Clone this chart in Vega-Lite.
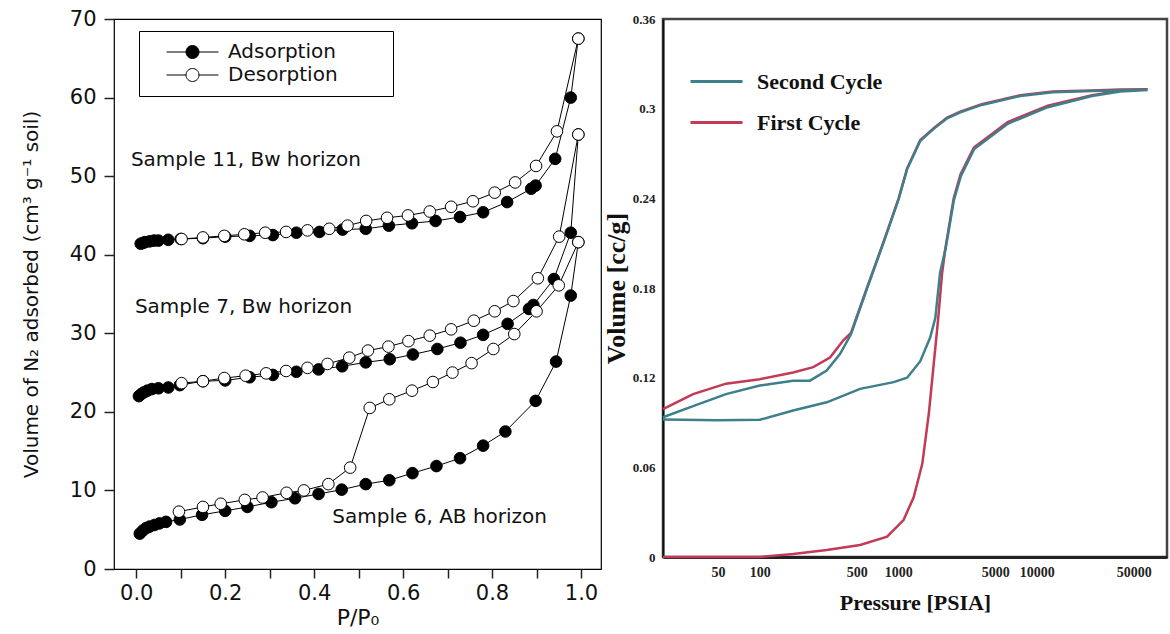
{
  "$schema": "https://vega.github.io/schema/vega-lite/v6.json",
  "padding": {"left": 20, "top": 7, "right": 2, "bottom": 0},
  "spacing": 0,
  "background": "white",
  "datasets": {
    "iso": [
      {"s":"11","t":"Adsorption","x":0.010,"y":41.4},{"s":"11","t":"Adsorption","x":0.015,"y":41.5},{"s":"11","t":"Adsorption","x":0.020,"y":41.6},{"s":"11","t":"Adsorption","x":0.030,"y":41.7},{"s":"11","t":"Adsorption","x":0.040,"y":41.8},{"s":"11","t":"Adsorption","x":0.050,"y":41.8},{"s":"11","t":"Adsorption","x":0.072,"y":41.9},{"s":"11","t":"Adsorption","x":0.100,"y":42.0},{"s":"11","t":"Adsorption","x":0.150,"y":42.1},{"s":"11","t":"Adsorption","x":0.200,"y":42.3},{"s":"11","t":"Adsorption","x":0.255,"y":42.4},{"s":"11","t":"Adsorption","x":0.307,"y":42.5},{"s":"11","t":"Adsorption","x":0.360,"y":42.8},{"s":"11","t":"Adsorption","x":0.412,"y":42.9},{"s":"11","t":"Adsorption","x":0.464,"y":43.2},{"s":"11","t":"Adsorption","x":0.516,"y":43.3},{"s":"11","t":"Adsorption","x":0.568,"y":43.7},{"s":"11","t":"Adsorption","x":0.620,"y":44.0},{"s":"11","t":"Adsorption","x":0.673,"y":44.3},{"s":"11","t":"Adsorption","x":0.728,"y":44.8},{"s":"11","t":"Adsorption","x":0.780,"y":45.4},{"s":"11","t":"Adsorption","x":0.834,"y":46.7},{"s":"11","t":"Adsorption","x":0.888,"y":48.4},{"s":"11","t":"Adsorption","x":0.898,"y":48.8},{"s":"11","t":"Adsorption","x":0.942,"y":52.2},{"s":"11","t":"Adsorption","x":0.977,"y":60.0},{"s":"11","t":"Adsorption","x":0.994,"y":67.5},
      {"s":"11","t":"Desorption","x":0.994,"y":67.5},{"s":"11","t":"Desorption","x":0.946,"y":55.7},{"s":"11","t":"Desorption","x":0.899,"y":51.3},{"s":"11","t":"Desorption","x":0.852,"y":49.2},{"s":"11","t":"Desorption","x":0.806,"y":47.9},{"s":"11","t":"Desorption","x":0.757,"y":46.8},{"s":"11","t":"Desorption","x":0.708,"y":46.1},{"s":"11","t":"Desorption","x":0.660,"y":45.5},{"s":"11","t":"Desorption","x":0.611,"y":45.0},{"s":"11","t":"Desorption","x":0.564,"y":44.7},{"s":"11","t":"Desorption","x":0.517,"y":44.3},{"s":"11","t":"Desorption","x":0.475,"y":43.7},{"s":"11","t":"Desorption","x":0.434,"y":43.3},{"s":"11","t":"Desorption","x":0.385,"y":43.1},{"s":"11","t":"Desorption","x":0.337,"y":42.9},{"s":"11","t":"Desorption","x":0.290,"y":42.8},{"s":"11","t":"Desorption","x":0.243,"y":42.6},{"s":"11","t":"Desorption","x":0.198,"y":42.4},{"s":"11","t":"Desorption","x":0.150,"y":42.2},{"s":"11","t":"Desorption","x":0.102,"y":42.0},
      {"s":"7","t":"Adsorption","x":0.006,"y":22.0},{"s":"7","t":"Adsorption","x":0.012,"y":22.3},{"s":"7","t":"Adsorption","x":0.018,"y":22.5},{"s":"7","t":"Adsorption","x":0.025,"y":22.7},{"s":"7","t":"Adsorption","x":0.035,"y":22.9},{"s":"7","t":"Adsorption","x":0.050,"y":23.0},{"s":"7","t":"Adsorption","x":0.072,"y":23.1},{"s":"7","t":"Adsorption","x":0.098,"y":23.4},{"s":"7","t":"Adsorption","x":0.150,"y":23.9},{"s":"7","t":"Adsorption","x":0.200,"y":24.0},{"s":"7","t":"Adsorption","x":0.255,"y":24.4},{"s":"7","t":"Adsorption","x":0.307,"y":24.7},{"s":"7","t":"Adsorption","x":0.360,"y":25.1},{"s":"7","t":"Adsorption","x":0.410,"y":25.4},{"s":"7","t":"Adsorption","x":0.463,"y":25.8},{"s":"7","t":"Adsorption","x":0.516,"y":26.3},{"s":"7","t":"Adsorption","x":0.570,"y":26.7},{"s":"7","t":"Adsorption","x":0.622,"y":27.3},{"s":"7","t":"Adsorption","x":0.677,"y":28.0},{"s":"7","t":"Adsorption","x":0.729,"y":28.8},{"s":"7","t":"Adsorption","x":0.780,"y":29.8},{"s":"7","t":"Adsorption","x":0.835,"y":31.2},{"s":"7","t":"Adsorption","x":0.883,"y":33.1},{"s":"7","t":"Adsorption","x":0.893,"y":33.6},{"s":"7","t":"Adsorption","x":0.939,"y":36.9},{"s":"7","t":"Adsorption","x":0.977,"y":42.8},{"s":"7","t":"Adsorption","x":0.994,"y":55.3},
      {"s":"7","t":"Desorption","x":0.994,"y":55.3},{"s":"7","t":"Desorption","x":0.951,"y":42.3},{"s":"7","t":"Desorption","x":0.903,"y":37.0},{"s":"7","t":"Desorption","x":0.848,"y":34.1},{"s":"7","t":"Desorption","x":0.806,"y":32.8},{"s":"7","t":"Desorption","x":0.759,"y":31.6},{"s":"7","t":"Desorption","x":0.708,"y":30.5},{"s":"7","t":"Desorption","x":0.660,"y":29.7},{"s":"7","t":"Desorption","x":0.612,"y":29.0},{"s":"7","t":"Desorption","x":0.567,"y":28.3},{"s":"7","t":"Desorption","x":0.521,"y":27.8},{"s":"7","t":"Desorption","x":0.479,"y":26.9},{"s":"7","t":"Desorption","x":0.430,"y":26.1},{"s":"7","t":"Desorption","x":0.385,"y":25.6},{"s":"7","t":"Desorption","x":0.337,"y":25.2},{"s":"7","t":"Desorption","x":0.292,"y":24.9},{"s":"7","t":"Desorption","x":0.246,"y":24.6},{"s":"7","t":"Desorption","x":0.198,"y":24.3},{"s":"7","t":"Desorption","x":0.150,"y":23.9},{"s":"7","t":"Desorption","x":0.102,"y":23.65},
      {"s":"6","t":"Adsorption","x":0.008,"y":4.5},{"s":"6","t":"Adsorption","x":0.015,"y":4.9},{"s":"6","t":"Adsorption","x":0.022,"y":5.2},{"s":"6","t":"Adsorption","x":0.030,"y":5.4},{"s":"6","t":"Adsorption","x":0.041,"y":5.6},{"s":"6","t":"Adsorption","x":0.052,"y":5.8},{"s":"6","t":"Adsorption","x":0.067,"y":6.0},{"s":"6","t":"Adsorption","x":0.098,"y":6.3},{"s":"6","t":"Adsorption","x":0.148,"y":6.9},{"s":"6","t":"Adsorption","x":0.200,"y":7.4},{"s":"6","t":"Adsorption","x":0.250,"y":7.9},{"s":"6","t":"Adsorption","x":0.304,"y":8.5},{"s":"6","t":"Adsorption","x":0.357,"y":9.0},{"s":"6","t":"Adsorption","x":0.410,"y":9.55},{"s":"6","t":"Adsorption","x":0.462,"y":10.1},{"s":"6","t":"Adsorption","x":0.516,"y":10.8},{"s":"6","t":"Adsorption","x":0.569,"y":11.3},{"s":"6","t":"Adsorption","x":0.621,"y":12.2},{"s":"6","t":"Adsorption","x":0.675,"y":13.1},{"s":"6","t":"Adsorption","x":0.728,"y":14.1},{"s":"6","t":"Adsorption","x":0.780,"y":15.7},{"s":"6","t":"Adsorption","x":0.830,"y":17.5},{"s":"6","t":"Adsorption","x":0.898,"y":21.4},{"s":"6","t":"Adsorption","x":0.944,"y":26.4},{"s":"6","t":"Adsorption","x":0.977,"y":34.8},{"s":"6","t":"Adsorption","x":0.994,"y":41.6},
      {"s":"6","t":"Desorption","x":0.994,"y":41.6},{"s":"6","t":"Desorption","x":0.950,"y":36.1},{"s":"6","t":"Desorption","x":0.900,"y":32.8},{"s":"6","t":"Desorption","x":0.850,"y":29.9},{"s":"6","t":"Desorption","x":0.803,"y":28.0},{"s":"6","t":"Desorption","x":0.754,"y":26.2},{"s":"6","t":"Desorption","x":0.711,"y":25.0},{"s":"6","t":"Desorption","x":0.667,"y":23.8},{"s":"6","t":"Desorption","x":0.620,"y":22.7},{"s":"6","t":"Desorption","x":0.569,"y":21.6},{"s":"6","t":"Desorption","x":0.525,"y":20.5},{"s":"6","t":"Desorption","x":0.481,"y":12.9},{"s":"6","t":"Desorption","x":0.432,"y":10.8},{"s":"6","t":"Desorption","x":0.377,"y":10.0},{"s":"6","t":"Desorption","x":0.338,"y":9.7},{"s":"6","t":"Desorption","x":0.284,"y":9.1},{"s":"6","t":"Desorption","x":0.244,"y":8.8},{"s":"6","t":"Desorption","x":0.190,"y":8.3},{"s":"6","t":"Desorption","x":0.150,"y":7.9},{"s":"6","t":"Desorption","x":0.096,"y":7.3}
    ],
    "labels": [
      {"label":"Sample 11, Bw horizon","x":-0.012,"y":52.0},
      {"label":"Sample 7, Bw horizon","x":-0.003,"y":33.4},
      {"label":"Sample 6, AB horizon","x":0.441,"y":6.6}
    ],
    "hg": [
      {"c":"First Cycle","i":1,"p":20,"v":0},{"c":"First Cycle","i":2,"p":100,"v":0},{"c":"First Cycle","i":3,"p":174,"v":0.002},{"c":"First Cycle","i":4,"p":304,"v":0.0047},{"c":"First Cycle","i":5,"p":530,"v":0.008},{"c":"First Cycle","i":6,"p":830,"v":0.0136},{"c":"First Cycle","i":7,"p":1090,"v":0.0247},{"c":"First Cycle","i":8,"p":1290,"v":0.04},{"c":"First Cycle","i":9,"p":1490,"v":0.0625},{"c":"First Cycle","i":10,"p":1660,"v":0.096},{"c":"First Cycle","i":11,"p":1800,"v":0.129},{"c":"First Cycle","i":12,"p":1900,"v":0.151},{"c":"First Cycle","i":13,"p":1950,"v":0.162},{"c":"First Cycle","i":14,"p":2070,"v":0.19},{"c":"First Cycle","i":15,"p":2190,"v":0.207},{"c":"First Cycle","i":16,"p":2510,"v":0.24},{"c":"First Cycle","i":17,"p":2810,"v":0.256},{"c":"First Cycle","i":18,"p":3510,"v":0.274},{"c":"First Cycle","i":19,"p":6150,"v":0.291},{"c":"First Cycle","i":20,"p":12000,"v":0.302},{"c":"First Cycle","i":21,"p":25000,"v":0.309},{"c":"First Cycle","i":22,"p":40000,"v":0.312},{"c":"First Cycle","i":23,"p":63000,"v":0.313},
      {"c":"First Cycle","i":24,"p":40000,"v":0.3128},{"c":"First Cycle","i":25,"p":25000,"v":0.3122},{"c":"First Cycle","i":26,"p":13000,"v":0.3115},{"c":"First Cycle","i":27,"p":7600,"v":0.309},{"c":"First Cycle","i":28,"p":4000,"v":0.303},{"c":"First Cycle","i":29,"p":2800,"v":0.298},{"c":"First Cycle","i":30,"p":2250,"v":0.294},{"c":"First Cycle","i":31,"p":1800,"v":0.287},{"c":"First Cycle","i":32,"p":1440,"v":0.279},{"c":"First Cycle","i":33,"p":1157,"v":0.26},{"c":"First Cycle","i":34,"p":1005,"v":0.24},{"c":"First Cycle","i":35,"p":783,"v":0.211},{"c":"First Cycle","i":36,"p":593,"v":0.18},{"c":"First Cycle","i":37,"p":455,"v":0.15},{"c":"First Cycle","i":38,"p":401,"v":0.145},{"c":"First Cycle","i":39,"p":321,"v":0.1335},{"c":"First Cycle","i":40,"p":243,"v":0.127},{"c":"First Cycle","i":41,"p":174,"v":0.1235},{"c":"First Cycle","i":42,"p":100,"v":0.119},{"c":"First Cycle","i":43,"p":57,"v":0.116},{"c":"First Cycle","i":44,"p":33,"v":0.109},{"c":"First Cycle","i":45,"p":20,"v":0.099},
      {"c":"Second Cycle","i":1,"p":20,"v":0.092},{"c":"Second Cycle","i":2,"p":50,"v":0.0915},{"c":"Second Cycle","i":3,"p":100,"v":0.0918},{"c":"Second Cycle","i":4,"p":174,"v":0.098},{"c":"Second Cycle","i":5,"p":304,"v":0.1035},{"c":"Second Cycle","i":6,"p":530,"v":0.1125},{"c":"Second Cycle","i":7,"p":925,"v":0.117},{"c":"Second Cycle","i":8,"p":1157,"v":0.12},{"c":"Second Cycle","i":9,"p":1440,"v":0.131},{"c":"Second Cycle","i":10,"p":1700,"v":0.147},{"c":"Second Cycle","i":11,"p":1850,"v":0.16},{"c":"Second Cycle","i":12,"p":2000,"v":0.19},{"c":"Second Cycle","i":13,"p":2200,"v":0.207},{"c":"Second Cycle","i":14,"p":2520,"v":0.239},{"c":"Second Cycle","i":15,"p":2830,"v":0.255},{"c":"Second Cycle","i":16,"p":3530,"v":0.273},{"c":"Second Cycle","i":17,"p":6200,"v":0.29},{"c":"Second Cycle","i":18,"p":12000,"v":0.301},{"c":"Second Cycle","i":19,"p":25000,"v":0.3085},{"c":"Second Cycle","i":20,"p":40000,"v":0.3115},{"c":"Second Cycle","i":21,"p":63000,"v":0.3125},
      {"c":"Second Cycle","i":22,"p":40000,"v":0.3123},{"c":"Second Cycle","i":23,"p":25000,"v":0.3118},{"c":"Second Cycle","i":24,"p":13000,"v":0.311},{"c":"Second Cycle","i":25,"p":7600,"v":0.3085},{"c":"Second Cycle","i":26,"p":4000,"v":0.3025},{"c":"Second Cycle","i":27,"p":2800,"v":0.2975},{"c":"Second Cycle","i":28,"p":2250,"v":0.2935},{"c":"Second Cycle","i":29,"p":1800,"v":0.2865},{"c":"Second Cycle","i":30,"p":1440,"v":0.2785},{"c":"Second Cycle","i":31,"p":1157,"v":0.2595},{"c":"Second Cycle","i":32,"p":1005,"v":0.2395},{"c":"Second Cycle","i":33,"p":783,"v":0.2105},{"c":"Second Cycle","i":34,"p":593,"v":0.1795},{"c":"Second Cycle","i":35,"p":455,"v":0.149},{"c":"Second Cycle","i":36,"p":380,"v":0.136},{"c":"Second Cycle","i":37,"p":304,"v":0.1247},{"c":"Second Cycle","i":38,"p":230,"v":0.118},{"c":"Second Cycle","i":39,"p":174,"v":0.118},{"c":"Second Cycle","i":40,"p":100,"v":0.1147},{"c":"Second Cycle","i":41,"p":57,"v":0.109},{"c":"Second Cycle","i":42,"p":33,"v":0.101},{"c":"Second Cycle","i":43,"p":20,"v":0.0935}
    ]
  },
  "hconcat": [
    {
      "width": 487,
      "height": 550,
      "view": {"stroke": "black", "strokeWidth": 1.2},
      "layer": [
        {
          "data": {"name": "iso"},
          "mark": {"type": "line", "color": "black", "strokeWidth": 1},
          "encoding": {
            "x": {"field": "x", "type": "quantitative",
              "scale": {"domain": [-0.05, 1.045], "nice": false, "zero": false},
              "axis": {"values": [0,0.1,0.2,0.3,0.4,0.5,0.6,0.7,0.8,0.9,1.0],
                "labelExpr": "(round(datum.value*10) % 2 == 0) ? format(datum.value, '.1f') : ''",
                "domain": false, "grid": false, "tickSize": 9, "tickWidth": 1.5, "tickColor": "#222",
                "labelFont": "DejaVu Sans", "labelFontSize": 21, "labelColor": "#111", "labelPadding": 4,
                "labelFlush": false, "labelOverlap": false,
                "title": "P/P₀", "titleFont": "DejaVu Sans", "titleFontSize": 22, "titleFontWeight": "normal", "titleColor": "#111", "titlePadding": 4}},
            "y": {"field": "y", "type": "quantitative",
              "scale": {"domain": [0, 70], "nice": false},
              "axis": {"values": [0,5,10,15,20,25,30,35,40,45,50,55,60,65,70],
                "labelExpr": "datum.value % 10 == 0 ? datum.label : ''",
                "domain": false, "grid": false, "tickSize": 10, "tickWidth": 1.5, "tickColor": "#222",
                "labelFont": "DejaVu Sans", "labelFontSize": 21, "labelColor": "#111", "labelPadding": 8,
                "labelOverlap": false, "labelFlush": false,
                "title": "Volume of N₂ adsorbed (cm³ g⁻¹ soil)", "titleFont": "DejaVu Sans", "titleFontSize": 20, "titleFontWeight": "normal", "titleColor": "#111", "titlePadding": 28}},
            "detail": [{"field": "s"}, {"field": "t"}]
          }
        },
        {
          "data": {"name": "iso"},
          "mark": {"type": "point", "filled": true, "shape": "circle", "size": 135, "stroke": "black", "strokeWidth": 1, "opacity": 1},
          "encoding": {
            "x": {"field": "x", "type": "quantitative"},
            "y": {"field": "y", "type": "quantitative"},
            "order": {"field": "t"},
            "fill": {"field": "t", "type": "nominal",
              "scale": {"domain": ["Adsorption", "Desorption"], "range": ["black", "white"]},
              "legend": {"orient": "none", "legendX": 25, "legendY": 12, "title": null,
                "symbolType": "M 1 0 L 4 0 M 6 0 L 9 0 M 6 0 A 1 1 0 1 1 4 0 A 1 1 0 1 1 6 0 Z",
                "symbolSize": 169, "symbolStrokeColor": "black", "symbolStrokeWidth": 1,
                "labelFont": "DejaVu Sans", "labelFontSize": 20, "labelColor": "#111", "labelOffset": 58, "labelLimit": 400,
                "labelExpr": "datum.label + '\u2800\u2800\u2800'",
                "padding": 11, "rowPadding": 3, "strokeColor": "black"}}
          }
        },
        {
          "data": {"name": "labels"},
          "mark": {"type": "text", "align": "left", "baseline": "middle", "font": "DejaVu Sans", "fontSize": 20, "color": "#111"},
          "encoding": {
            "x": {"field": "x", "type": "quantitative"},
            "y": {"field": "y", "type": "quantitative"},
            "text": {"field": "label"}
          }
        }
      ]
    },
    {
      "width": 504,
      "height": 538,
      "view": {"stroke": "#444", "strokeWidth": 2.5},
      "data": {"name": "hg"},
      "mark": {"type": "line", "strokeWidth": 2.5, "interpolate": "linear"},
      "encoding": {
        "x": {"field": "p", "type": "quantitative",
          "scale": {"type": "log", "domain": [20, 87000], "nice": false},
          "axis": {"values": [50,100,500,1000,5000,10000,50000], "format": "d",
            "grid": false, "ticks": false, "domain": true, "domainColor": "#222", "domainWidth": 3,
            "labelFont": "Liberation Serif", "labelFontWeight": "bold", "labelFontSize": 14, "labelColor": "#222", "labelPadding": 8,
            "labelFlush": false, "labelOverlap": false,
            "title": "Pressure [PSIA]", "titleFont": "Liberation Serif", "titleFontWeight": "bold", "titleFontSize": 22, "titleColor": "#111", "titlePadding": 13}},
        "y": {"field": "v", "type": "quantitative",
          "scale": {"domain": [0, 0.36], "nice": false},
          "axis": {"values": [0,0.06,0.12,0.18,0.24,0.3,0.36], "format": ".2~f",
            "grid": false, "ticks": false, "domain": true, "domainColor": "#111", "domainWidth": 2,
            "labelFont": "Liberation Serif", "labelFontWeight": "bold", "labelFontSize": 13, "labelColor": "#222", "labelPadding": 8,
            "labelOverlap": false, "labelFlush": false,
            "title": "Volume [cc/g]", "titleFont": "Liberation Serif", "titleFontWeight": "bold", "titleFontSize": 26, "titleColor": "#111", "titlePadding": 3}},
        "color": {"field": "c", "type": "nominal",
          "scale": {"domain": ["Second Cycle", "First Cycle"], "range": ["#3d7f8a", "#c23a55"]},
          "legend": {"orient": "none", "legendX": 588, "legendY": 48, "title": null,
            "symbolType": "M -2 0 L 2 0", "symbolSize": 676, "symbolStrokeWidth": 3,
            "labelFont": "Liberation Serif", "labelFontWeight": "bold", "labelFontSize": 22, "labelColor": "#111",
            "labelOffset": 26, "rowPadding": 15, "padding": 0}},
        "order": {"field": "i", "type": "quantitative"}
      }
    }
  ]
}
